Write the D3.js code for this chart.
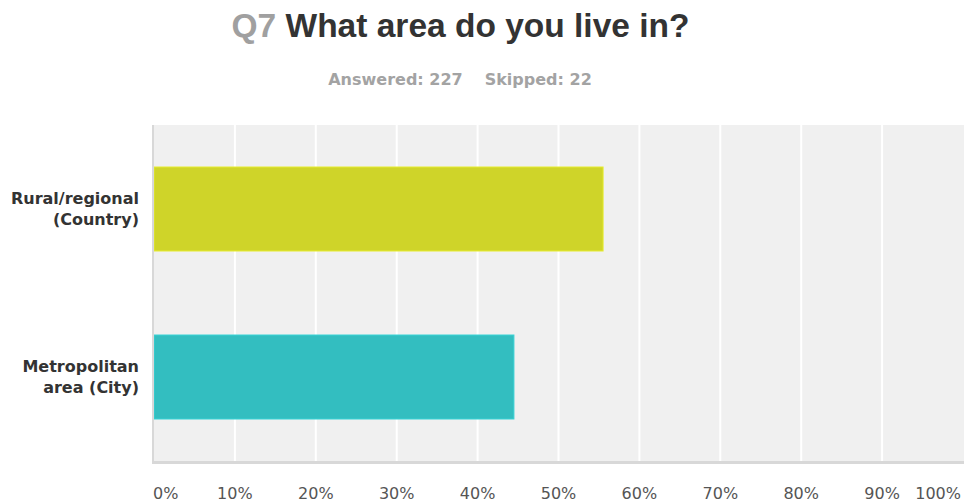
<!DOCTYPE html>
<html>
<head>
<meta charset="utf-8">
<script src="https://cdn.jsdelivr.net/npm/d3@7"></script>
<style>
  html, body { margin: 0; padding: 0; background: #fff; }
  svg { display: block; }
</style>
</head>
<body>
<svg id="chart" width="964" height="502"></svg>
<script>
// ---- data ----
const questionNumber = "Q7";
const questionText = "What area do you live in?";
const answered = 227;
const skipped = 22;
const categories = [["Rural/regional", "(Country)"], ["Metropolitan", "area (City)"]];
const categoryKeys = ["Rural/regional (Country)", "Metropolitan area (City)"];
const values = [0.5551, 0.4449];
const barColors = ["#cfd429", "#33bec0"];
const tickValues = [0, 0.1, 0.2, 0.3, 0.4, 0.5, 0.6, 0.7, 0.8, 0.9, 1.0];

// ---- layout ----
const svg = d3.select("#chart");
const plot = { left: 153, right: 964, top: 125, bottom: 461 };

const x = d3.scaleLinear().domain([0, 1]).range([154, 963]);
const y = d3.scaleBand().domain(categoryKeys).range([plot.top, plot.bottom])
  .paddingInner(0.5).paddingOuter(0.25);

// title
const title = svg.append("text")
  .attr("x", 460.5).attr("y", 37)
  .attr("text-anchor", "middle")
  .style("font-family", "'Liberation Sans', Arial, sans-serif")
  .style("font-weight", "bold")
  .style("font-size", "33.5px");
title.append("tspan").attr("fill", "#a0a0a0").text(questionNumber + " ");
title.append("tspan").attr("fill", "#333333").text(questionText);

// subtitle
const sub = svg.append("text")
  .attr("x", 460).attr("y", 85)
  .attr("text-anchor", "middle")
  .attr("fill", "#a3a3a3")
  .style("font-family", "'DejaVu Sans', Verdana, sans-serif")
  .style("font-weight", "bold")
  .style("font-size", "16px");
sub.append("tspan").text("Answered: " + answered);
sub.append("tspan").attr("dx", 22).text("Skipped: " + skipped);

// plot background
svg.append("rect")
  .attr("x", plot.left).attr("y", plot.top)
  .attr("width", plot.right - plot.left).attr("height", plot.bottom - plot.top)
  .attr("fill", "#f0f0f0");

// gridlines
svg.append("g").selectAll("line")
  .data(tickValues.filter(d => d > 0 && d < 1))
  .join("line")
  .attr("x1", d => x(d)).attr("x2", d => x(d))
  .attr("y1", plot.top).attr("y2", plot.bottom)
  .attr("stroke", "#ffffff").attr("stroke-width", 2);

// bars
svg.append("g").selectAll("rect")
  .data(values)
  .join("rect")
  .attr("x", x(0))
  .attr("y", (d, i) => y(categoryKeys[i]))
  .attr("width", d => x(d) - x(0))
  .attr("height", y.bandwidth())
  .attr("fill", (d, i) => barColors[i])
  .attr("stroke", (d, i) => d3.color(barColors[i]).brighter(0.3))
  .attr("stroke-width", 1);

// axes lines
svg.append("line")
  .attr("x1", plot.left).attr("x2", plot.right)
  .attr("y1", plot.bottom + 1.5).attr("y2", plot.bottom + 1.5)
  .attr("stroke", "#d8d8d8").attr("stroke-width", 3);
svg.append("line")
  .attr("x1", plot.left).attr("x2", plot.left)
  .attr("y1", plot.top).attr("y2", plot.bottom + 3)
  .attr("stroke", "#d8d8d8").attr("stroke-width", 2);

// x tick labels
svg.append("g").selectAll("text")
  .data(tickValues)
  .join("text")
  .attr("x", (d, i) => i === 0 ? 153 : (i === tickValues.length - 1 ? 961 : x(d)))
  .attr("y", 499)
  .attr("text-anchor", (d, i) => i === 0 ? "start" : (i === tickValues.length - 1 ? "end" : "middle"))
  .attr("fill", "#555555")
  .style("font-family", "'DejaVu Sans', Verdana, sans-serif")
  .style("font-size", "16px")
  .text(d => d3.format(".0%")(d));

// category labels
const lab = svg.append("g").selectAll("text")
  .data(categories)
  .join("text")
  .attr("text-anchor", "end")
  .attr("fill", "#333333")
  .style("font-family", "'DejaVu Sans', Verdana, sans-serif")
  .style("font-weight", "bold")
  .style("font-size", "16px");
lab.each(function(lines, i) {
  const cy = y(categoryKeys[i]) + y.bandwidth() / 2;
  d3.select(this).selectAll("tspan")
    .data(lines)
    .join("tspan")
    .attr("x", 139)
    .attr("y", (l, j) => cy + (j - 0.5) * 21 + 5.5)
    .text(l => l);
});
</script>
</body>
</html>
